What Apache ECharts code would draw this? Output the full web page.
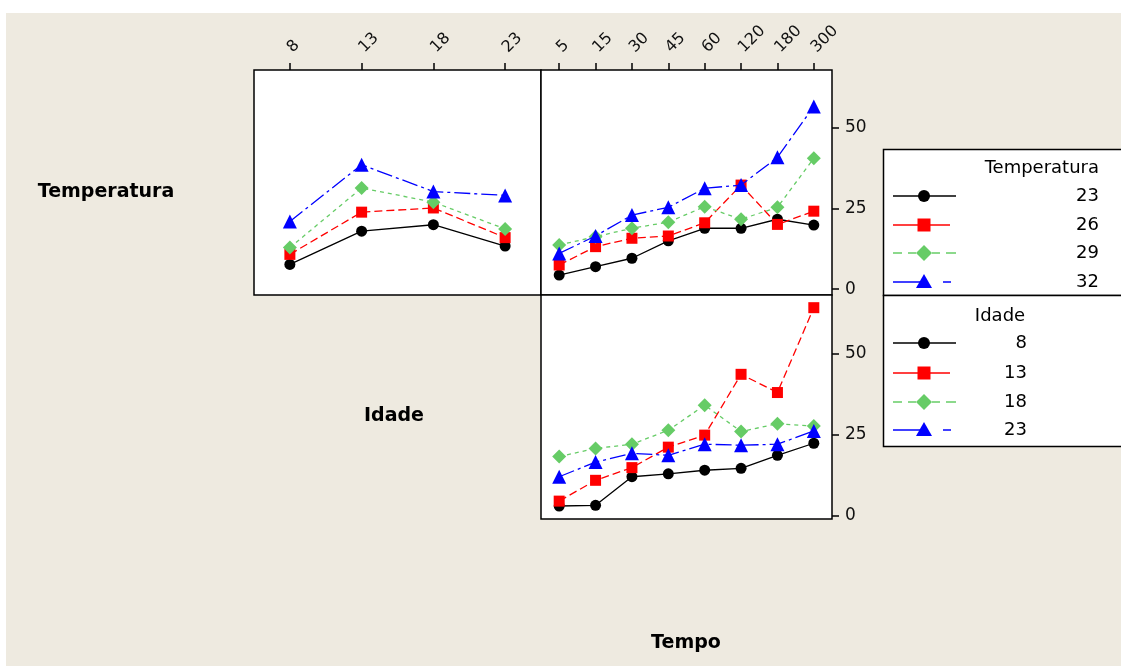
<!DOCTYPE html>
<html><head><meta charset="utf-8">
<script src="https://cdn.jsdelivr.net/npm/echarts@6/dist/echarts.min.js"></script>
<style>
html,body{margin:0;padding:0;background:#fff;}
#wrap{position:relative;width:1121px;height:666px;overflow:hidden;}
#bg{position:absolute;left:6px;top:13px;right:0;bottom:0;background:#EEEAE0;}
#chart{position:absolute;left:0;top:0;width:1121px;height:666px;}
</style></head><body>
<div id="wrap"><div id="bg"></div><div id="chart"></div></div>
<script>
// ---- data ----
const idadeCats = ['8','13','18','23'];
const tempoCats = ['5','15','30','45','60','120','180','300'];
const tempLevels = ['23','26','29','32'];
const idadeLevels = ['8','13','18','23'];
const yTickValues = [0,25,50];
// Temperatura x Idade (top-left panel), one row per Temperatura level
const tempByIdade = [
  [7.7,18.0,20.0,13.4],
  [10.8,23.9,25.2,16.0],
  [12.9,31.4,27.0,18.7],
  [21.0,38.6,30.3,29.1]
];
// Temperatura x Tempo (top-right panel)
const tempByTempo = [
  [4.4,7.0,9.6,15.0,18.9,18.9,21.7,19.9],
  [7.5,13.2,15.8,16.5,20.6,32.3,20.1,24.2],
  [13.7,16.3,18.9,20.8,25.6,21.7,25.4,40.6],
  [11.1,16.5,23.0,25.4,31.3,32.3,40.9,56.7]
];
// Idade x Tempo (bottom-right panel)
const idadeByTempo = [
  [3.1,3.3,12.1,13.0,14.1,14.7,18.7,22.4],
  [4.6,11.0,14.9,21.2,24.9,43.6,38.0,64.1],
  [18.3,20.8,22.1,26.4,34.1,26.0,28.4,27.7],
  [12.1,16.6,19.3,18.7,22.1,21.8,22.1,26.2]
];

// ---- styles ----
const colors = ['#000000','#FF0000','#66CC66','#0000FF'];
const symbols = ['circle','rect','diamond','triangle'];
const symbolSizes = [11,11,14,14];
const dashes = ['solid',[8,4],[4,4],[16,4,3,4]];
const FONT = '"DejaVu Sans", Verdana, sans-serif';

const chart = echarts.init(document.getElementById('chart'), null, {renderer:'canvas'});

const gridBase = {show:true, backgroundColor:'#fff', borderColor:'#000', borderWidth:1.5, containLabel:false};
const grids = [
  Object.assign({left:254, top:70, width:287, height:225}, gridBase),
  Object.assign({left:541, top:70, width:291, height:225}, gridBase),
  Object.assign({left:541, top:295, width:291, height:224}, gridBase)
];

const topXAxis = (gi, cats) => ({
  type:'category', gridIndex:gi, data:cats, position:'top', boundaryGap:true,
  axisLine:{show:false, onZero:false},
  axisTick:{show:true, alignWithLabel:true, length:7, inside:false, lineStyle:{color:'#000', width:1.5}},
  axisLabel:{rotate:-45, interval:0, margin:20, fontSize:16, color:'#111', fontFamily:FONT},
  splitLine:{show:false}
});

const xAxes = [
  topXAxis(0, idadeCats),
  topXAxis(1, tempoCats),
  {type:'category', gridIndex:2, data:tempoCats, boundaryGap:true, show:false, axisLine:{onZero:false}}
];

const rightYAxis = (gi, min, max) => ({
  type:'value', gridIndex:gi, position:'right', min:min, max:max,
  axisLine:{show:false},
  axisTick:{show:true, length:7, inside:false, customValues:yTickValues, lineStyle:{color:'#000', width:1.5}},
  axisLabel:{show:true, margin:13, fontSize:17, color:'#111', fontFamily:FONT, customValues:yTickValues},
  splitLine:{show:false}
});

const yAxes = [
  {type:'value', gridIndex:0, min:-1.8, max:68, show:false, splitLine:{show:false}},
  rightYAxis(1, -1.8, 68),
  rightYAxis(2, -0.9, 68)
];

const series = [];
function addSeries(gi, names, rows) {
  rows.forEach((row, i) => {
    series.push({
      type:'line', name:names[i], xAxisIndex:gi, yAxisIndex:gi, data:row,
      symbol:symbols[i], symbolSize:symbolSizes[i], showSymbol:true,
      itemStyle:{color:colors[i]},
      lineStyle:{color:colors[i], width:1.3, type:dashes[i]},
      animation:false, z:2+i
    });
  });
}
addSeries(0, tempLevels, tempByIdade);
addSeries(1, tempLevels, tempByTempo);
addSeries(2, idadeLevels, idadeByTempo);

// ---- labels and legend (graphic) ----
const graphics = [];
function txt(x, y, text, font, align) {
  graphics.push({type:'text', z:10, style:{text:text, x:x, y:y, font:font, fill:'#000',
    align:align||'center', verticalAlign:'middle', textAlign:align||'center', textVerticalAlign:'middle'}});
}
txt(106, 192, 'Temperatura', 'bold 19px ' + FONT);
txt(394, 416, 'Idade', 'bold 19px ' + FONT);
txt(686, 643, 'Tempo', 'bold 19px ' + FONT);

// legend boxes
graphics.push({type:'rect', z:8, shape:{x:883.5, y:149.5, width:260, height:146}, style:{fill:'#fff', stroke:'#000', lineWidth:1.5}});
graphics.push({type:'rect', z:8, shape:{x:883.5, y:295.5, width:260, height:151}, style:{fill:'#fff', stroke:'#000', lineWidth:1.5}});

function seg(x1, x2, y, color, dash) {
  graphics.push({type:'line', z:9, shape:{x1:x1, y1:y, x2:x2, y2:y}, style:{stroke:color, lineWidth:1.5, lineDash:dash||null}});
}
function marker(i, cx, cy) {
  const c = colors[i];
  if (i === 0) graphics.push({type:'circle', z:10, shape:{cx:cx, cy:cy, r:6}, style:{fill:c}});
  else if (i === 1) graphics.push({type:'rect', z:10, shape:{x:cx-6.5, y:cy-6.5, width:13, height:13}, style:{fill:c}});
  else if (i === 2) graphics.push({type:'polygon', z:10, shape:{points:[[cx,cy-8],[cx+8,cy],[cx,cy+8],[cx-8,cy]]}, style:{fill:c}});
  else graphics.push({type:'polygon', z:10, shape:{points:[[cx,cy-8],[cx+8,cy+6],[cx-8,cy+6]]}, style:{fill:c}});
}
function legendSymbol(i, y) {
  const mx = 924;
  if (i === 0) seg(893, 956, y, colors[0]);
  else if (i === 1) seg(893, 950, y, colors[1]);
  else if (i === 2) { seg(893, 902, y, colors[2]); seg(908, 916, y, colors[2]); seg(932, 940, y, colors[2]); seg(946, 956, y, colors[2]); }
  else { seg(893, 920, y, colors[3]); seg(943, 951, y, colors[3]); }
  marker(i, mx, y);
}
const regFont = '18px ' + FONT;
txt(1099, 168, 'Temperatura', regFont, 'right');
const tempRowsY = [196, 225, 253, 282];
tempLevels.forEach((lv, i) => { legendSymbol(i, tempRowsY[i]); txt(1099, tempRowsY[i], lv, regFont, 'right'); });
txt(1000, 316, 'Idade', regFont, 'center');
const idadeRowsY = [343, 373, 402, 430];
idadeLevels.forEach((lv, i) => { legendSymbol(i, idadeRowsY[i]); txt(1027, idadeRowsY[i], lv, regFont, 'right'); });

chart.setOption({
  backgroundColor:'transparent',
  animation:false,
  grid:grids, xAxis:xAxes, yAxis:yAxes, series:series,
  graphic:{elements:graphics}
});
</script></body></html>
